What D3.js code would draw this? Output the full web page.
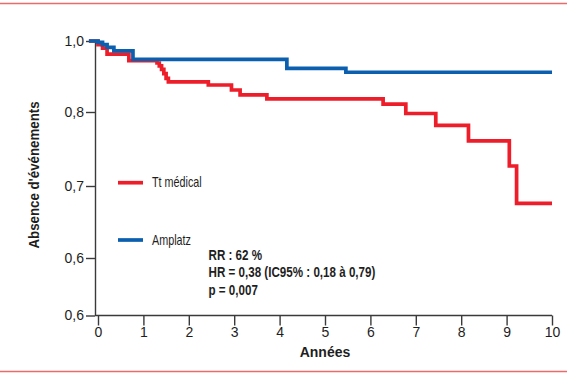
<!DOCTYPE html>
<html>
<head>
<meta charset="utf-8">
<script src="https://cdn.jsdelivr.net/npm/d3@7"></script>
<style>
  body { margin: 0; background: #fff; }
  svg { display: block; }
</style>
</head>
<body>
<div id="chart"></div>
<script>
// data (years, survival without events)
var amplatzYears = [-0.2, 0.0, 0.1, 0.2, 0.35, 0.77, 4.16, 5.46, 10]
var amplatzValues = [1.0, 0.996, 0.99, 0.982, 0.972, 0.948, 0.923, 0.912, 0.912]

var medicalYears = [-0.2, 0.0, 0.1, 0.2, 0.68, 1.3, 1.35, 1.4, 1.45, 1.5, 1.55, 2.43, 2.94, 3.13, 3.72, 6.28, 6.78, 7.44, 8.16, 9.06, 9.22, 10]
var medicalValues = [1.0, 0.99, 0.98, 0.963, 0.945, 0.938, 0.93, 0.92, 0.908, 0.895, 0.885, 0.876, 0.862, 0.848, 0.837, 0.822, 0.798, 0.782, 0.761, 0.727, 0.676, 0.676]

var xTicks = [0, 1, 2, 3, 4, 5, 6, 7, 8, 9, 10]
// the y axis of the original is labelled unevenly, bottom tick repeats "0,6"
var yTicks = [0.52, 0.6, 0.7, 0.8, 1.0]
var yTickLabels = ['0,6', '0,6', '0,7', '0,8', '1,0']

var legendLabels = ['Tt médical', 'Amplatz']
var statsLines = ['RR : 62 %', 'HR = 0,38 (IC95% : 0,18 à 0,79)', 'p = 0,007']

var width = 567, height = 375
var red = '#ee1d2a', blue = '#0b5fae', axisColor = '#3a3a3a', textColor = '#1e1e1e'
var font = 'Liberation Sans, Arial, sans-serif'

var svg = d3.select('#chart').append('svg')
  .attr('width', width)
  .attr('height', height)

// pink frame lines top and bottom
svg.append('line').attr('x1', 0).attr('x2', width).attr('y1', 3.5).attr('y2', 3.5)
  .attr('stroke', '#ec6a6a').attr('stroke-width', 1.3)
svg.append('line').attr('x1', 0).attr('x2', width).attr('y1', 371.5).attr('y2', 371.5)
  .attr('stroke', '#ec6a6a').attr('stroke-width', 1.3)

var x = d3.scaleLinear().domain([0, 10]).range([98, 552])
// piecewise scale to follow the uneven tick spacing
var y = d3.scaleLinear().domain(yTicks).range([315.5, 258, 186, 112, 41])

var axisLeftX = 95

// Y axis
var yAxis = svg.append('g')
  .attr('transform', 'translate(' + axisLeftX + ',0)')
  .call(d3.axisLeft(y).tickValues(yTicks)
    .tickFormat(function (d, i) { return yTickLabels[i] })
    .tickSize(9).tickSizeOuter(0).tickPadding(2))
yAxis.select('.domain').attr('stroke', axisColor).attr('stroke-width', 1.4)
yAxis.selectAll('.tick line').attr('stroke', axisColor).attr('stroke-width', 1.4)
yAxis.selectAll('.tick text')
  .style('font-family', font)
  .style('font-size', '14px')
  .attr('fill', textColor)

// X axis
var xAxis = svg.append('g')
  .attr('transform', 'translate(0,' + y(0.52) + ')')
  .call(d3.axisBottom(x).tickValues(xTicks).tickFormat(d3.format('d'))
    .tickSize(10).tickSizeOuter(0).tickPadding(2))
xAxis.select('.domain').remove()
xAxis.append('line')
  .attr('x1', axisLeftX).attr('x2', x(10))
  .attr('stroke', axisColor).attr('stroke-width', 1.4)
xAxis.selectAll('.tick line').attr('stroke', axisColor).attr('stroke-width', 1.4)
xAxis.selectAll('.tick text')
  .style('font-family', font)
  .style('font-size', '14px')
  .attr('fill', textColor)

// axis titles
svg.append('text')
  .attr('text-anchor', 'middle')
  .attr('transform', 'translate(' + 38.5 + ',' + 175 + ')rotate(-90)scale(0.95,1)')
  .style('font-family', font)
  .style('font-size', '14px')
  .style('font-weight', 'bold')
  .attr('fill', textColor)
  .text("Absence d'événements")

svg.append('text')
  .attr('text-anchor', 'middle')
  .attr('x', x(5))
  .attr('y', 357)
  .style('font-family', font)
  .style('font-size', '14px')
  .style('font-weight', 'bold')
  .attr('fill', textColor)
  .text('Années')

// curves
var line = d3.line()
  .x(function (d) { return x(d[0]) })
  .y(function (d) { return y(d[1]) })
  .curve(d3.curveStepAfter)

svg.append('path')
  .datum(d3.zip(medicalYears, medicalValues))
  .attr('d', line)
  .attr('fill', 'none')
  .attr('stroke', red)
  .attr('stroke-width', 3.7)

svg.append('path')
  .datum(d3.zip(amplatzYears, amplatzValues))
  .attr('d', line)
  .attr('fill', 'none')
  .attr('stroke', blue)
  .attr('stroke-width', 3.7)

// condensed text: original uses a narrow face, squeeze a normal one
function narrowText (g, tx, ty, sx, str, weight) {
  return g.append('text')
    .attr('transform', 'translate(' + tx + ',' + ty + ')scale(' + sx + ',1)')
    .style('font-family', font)
    .style('font-size', '14px')
    .style('font-weight', weight)
    .attr('fill', textColor)
    .text(str)
}

// legend
var legend = svg.append('g')
var legendColors = [red, blue]
var legendY = [182.7, 240]
legendLabels.forEach(function (lab, i) {
  legend.append('line')
    .attr('x1', 118).attr('x2', 143)
    .attr('y1', legendY[i]).attr('y2', legendY[i])
    .attr('stroke', legendColors[i]).attr('stroke-width', 3.7)
  narrowText(legend, 152, legendY[i] + 4.5, 0.77, lab, 'normal')
})

// stats block
var stats = svg.append('g')
statsLines.forEach(function (s, i) {
  narrowText(stats, 208.5, 259.5 + i * 17.5, 0.83, s, 'bold')
})
</script>
</body>
</html>
